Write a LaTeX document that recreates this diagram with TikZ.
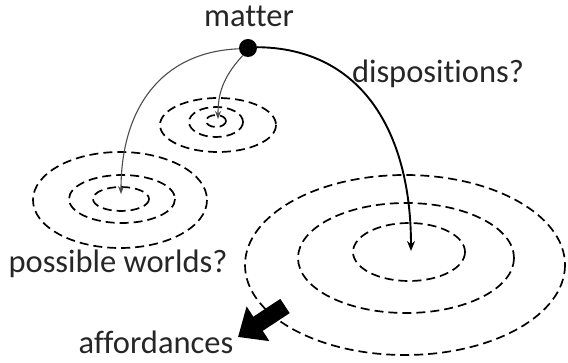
\documentclass[tikz,border=0pt]{standalone}
\usepackage{fontspec}
\setmainfont[Ligatures=NoCommon]{Carlito}
\usetikzlibrary{arrows.meta}
\tikzset{
  ring/.style={draw=black, line width=1.7pt, dash pattern=on 9pt off 5pt},
  thinarrow/.style={draw=black!70, line width=1.1pt, -{Stealth[length=8pt,width=6pt]}},
  mainarrow/.style={draw=black, line width=1.9pt, -{Stealth[length=10pt,width=8pt]}},
  lbl/.style={font=\fontsize{32.5}{36}\selectfont, text=black!85, inner sep=0pt, anchor=base},
}
\begin{document}
\begin{tikzpicture}[x=1pt,y=-1pt]
\useasboundingbox (0,0) rectangle (568,363);
% small rings (top middle)
\draw[ring] (218,125) ellipse [x radius=58, y radius=27];
\draw[ring] (216,122) ellipse [x radius=27, y radius=15];
\draw[ring] (216,121) ellipse [x radius=10, y radius=6];
% left rings
\draw[ring] (120,200) ellipse [x radius=87, y radius=48];
\draw[ring] (122,199) ellipse [x radius=53, y radius=24];
\draw[ring] (121,199) ellipse [x radius=28, y radius=12];
% big rings
\draw[ring] (405,265) ellipse [x radius=160, y radius=90];
\draw[ring] (406,258) ellipse [x radius=108, y radius=55];
\draw[ring] (409,252) ellipse [x radius=56, y radius=29];
% points
\node[circle, fill=black, minimum size=18pt, inner sep=0pt] (m) at (248,48) {};
\coordinate (left) at (121,194);
\coordinate (small) at (218,119);
\coordinate (big) at (411,251);
% labels
\node[lbl] (tm) at (249,27) {matter};
\node[lbl] (td) at (438,83) {dispositions?};
\node[lbl] (tp) at (118,273) {possible worlds?};
\node[lbl] (ta) at (156,354) {affordances};
% arrows
\draw[thinarrow] (m.185) .. controls (160,52) and (121,110) .. (left);
\draw[thinarrow] (m.235) .. controls (222,78) and (218,95) .. (small);
\draw[mainarrow] (m.5) .. controls (360,48) and (411,130) .. (big);
% block arrow
\coordinate (bs) at (285,306);
\coordinate (bt) at (238,337);
\draw[line width=17pt, -{Triangle[length=24pt,width=40pt]}] (bs) -- (bt);
\end{tikzpicture}
\end{document}
